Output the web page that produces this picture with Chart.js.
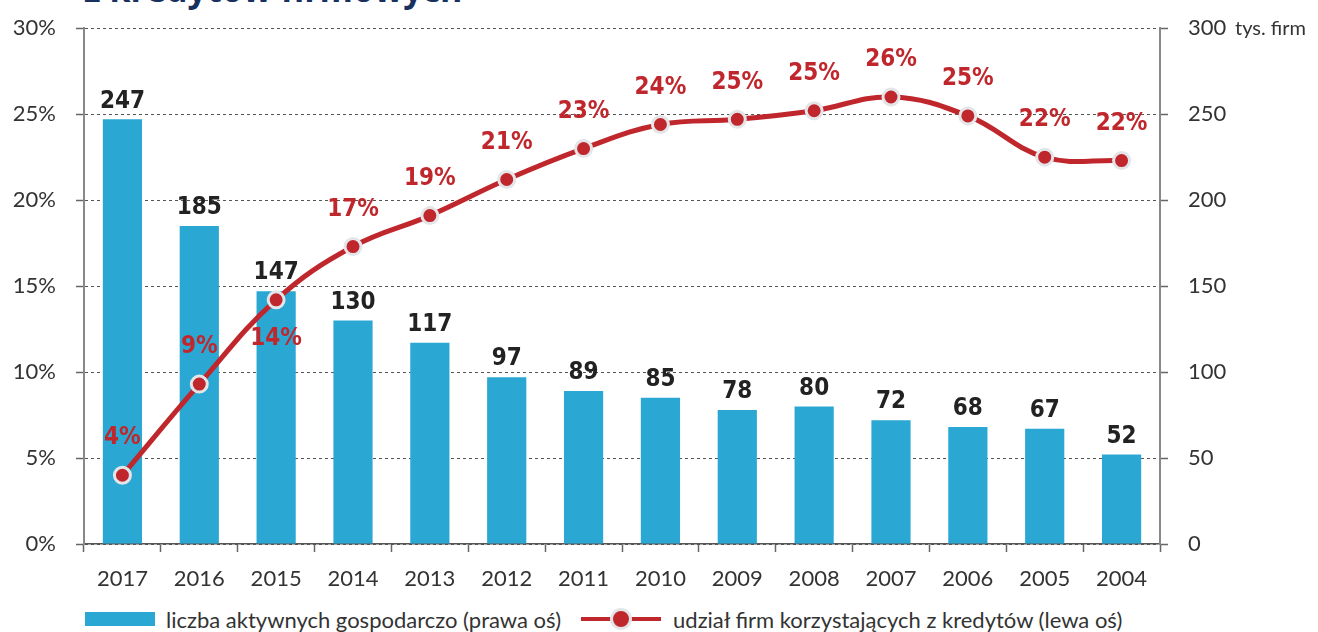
<!DOCTYPE html>
<html>
<head>
<meta charset="utf-8">
<script src="https://cdn.jsdelivr.net/npm/chart.js@4"></script>
<style>
  body { margin: 0; background: #fff; width: 1318px; height: 632px; overflow: hidden; position: relative; font-family: Lato, "Open Sans", sans-serif; }
  #title { position: absolute; left: 84px; top: -34px; font: bold 34px "Open Sans", sans-serif; color: #17305e; white-space: nowrap; }
  #wrap { position: absolute; left: 0; top: -5px; width: 1318px; height: 605px; }
  #legend { position: absolute; top: 605px; left: 85px; font-size: 22px; color: #333; display: flex; align-items: center; }
  .sw-bar { width: 70px; height: 14px; background: #2aa8d3; margin-right: 11px; }
  .sw-line { position: relative; width: 80px; height: 28px; margin: 0 12px 0 20px; }
  .sw-line .ln { position: absolute; left: 0; right: 0; top: 12px; height: 4px; background: #c0272d; }
  .sw-line .pt { position: absolute; left: 29px; top: 3px; width: 16px; height: 16px; border-radius: 50%; background: #c0272d; border: 3px solid #e3e5e8; }
</style>
</head>
<body>
<div id="title">z kredytów firmowych</div>
<div id="wrap"><canvas id="c"></canvas></div>
<div id="legend">
  <div class="sw-bar"></div><span>liczba aktywnych gospodarczo (prawa oś)</span>
  <div class="sw-line"><div class="ln"></div><div class="pt"></div></div><span>udział firm korzystających z kredytów (lewa oś)</span>
</div>
<script>
const years = ['2017','2016','2015','2014','2013','2012','2011','2010','2009','2008','2007','2006','2005','2004'];
const firms = [247, 185, 147, 130, 117, 97, 89, 85, 78, 80, 72, 68, 67, 52];
const creditShare = [4.0, 9.3, 14.2, 17.3, 19.1, 21.2, 23.0, 24.4, 24.7, 25.2, 26.0, 24.9, 22.5, 22.3];
const shareLabels = ['4%','9%','14%','17%','19%','21%','23%','24%','25%','25%','26%','25%','22%','22%'];
// only 2015 has its label under the point
const labelBelow = [false, false, true, false, false, false, false, false, false, false, false, false, false, false];

const RED = '#c0272d';
const BLUE = '#2aa8d3';
const tickFont = { family: 'Lato, "Open Sans", sans-serif', size: 22 };

const labelPlugin = {
  id: 'valueLabels',
  afterDatasetsDraw(chart) {
    const ctx = chart.ctx;
    ctx.save();
    ctx.textAlign = 'center';
    ctx.textBaseline = 'middle';
    // bar values
    ctx.font = 'bold 24px "DejaVu Sans Condensed", "DejaVu Sans", sans-serif';
    ctx.fillStyle = '#222';
    chart.getDatasetMeta(1).data.forEach((bar, i) => {
      ctx.fillText(String(firms[i]), bar.x, bar.y - 18);
    });
    // line values
    ctx.fillStyle = RED;
    chart.getDatasetMeta(0).data.forEach((pt, i) => {
      const dy = labelBelow[i] ? 39 : -37;
      ctx.fillText(shareLabels[i], pt.x, pt.y + dy);
    });
    // unit next to the top right tick
    const r = chart.scales.yR;
    ctx.font = '20px Lato, "Open Sans", sans-serif';
    ctx.fillStyle = '#333';
    ctx.textAlign = 'left';
    ctx.fillText('tys. firm', 1235, r.getPixelForValue(300));
    ctx.restore();
  }
};

new Chart(document.getElementById('c'), {
  data: {
    labels: years,
    datasets: [
      {
        type: 'line',
        data: creditShare,
        yAxisID: 'yL',
        borderColor: RED,
        borderWidth: 5,
        tension: 0.4,
        pointRadius: 8,
        pointBackgroundColor: RED,
        pointBorderColor: '#e3e5e8',
        pointBorderWidth: 3,
        order: 0
      },
      {
        type: 'bar',
        data: firms,
        yAxisID: 'yR',
        backgroundColor: BLUE,
        barPercentage: 0.51,
        categoryPercentage: 1,
        order: 1
      }
    ]
  },
  plugins: [labelPlugin],
  options: {
    responsive: true,
    maintainAspectRatio: false,
    animation: false,
    layout: { padding: { top: 23, bottom: 0, left: 0, right: 0 } },
    plugins: { legend: { display: false }, tooltip: { enabled: false } },
    scales: {
      x: {
        offset: true,
        grid: { offset: true, drawOnChartArea: false, drawTicks: true, tickLength: 8, color: '#666', tickWidth: 1.5 },
        border: { color: '#555', width: 1.5 },
        ticks: { color: '#333', font: tickFont, padding: 14 },
        afterFit(s) { s.height = 56; }
      },
      yL: {
        position: 'left',
        min: 0, max: 30,
        ticks: { stepSize: 5, color: '#333', font: tickFont, padding: 20, callback: v => v + '%' },
        grid: { color: '#555', lineWidth: 1, tickLength: 8, tickColor: '#666', tickWidth: 1.5, tickBorderDash: [] },
        border: { color: '#888', width: 2, dash: [3, 3] },
        afterFit(s) { s.width = 84; }
      },
      yR: {
        position: 'right',
        min: 0, max: 300,
        ticks: { stepSize: 50, color: '#333', font: tickFont, padding: 20 },
        grid: { drawOnChartArea: false, tickLength: 8, tickColor: '#666', tickWidth: 1.5 },
        border: { color: '#888', width: 2 },
        afterFit(s) { s.width = 158; }
      }
    }
  }
});
</script>
</body>
</html>
